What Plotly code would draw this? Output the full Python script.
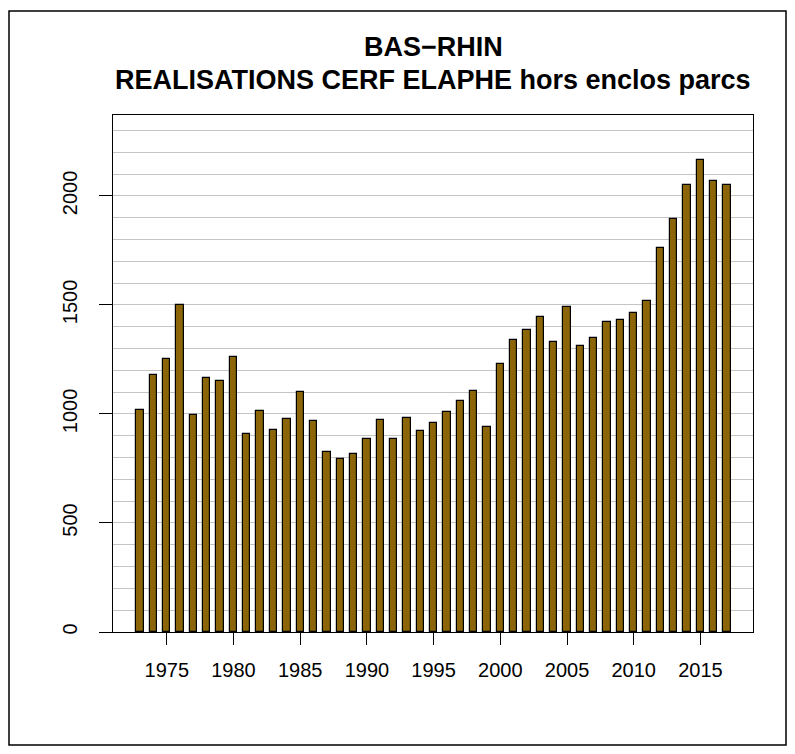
import plotly.graph_objects as go

years = list(range(1973, 2018))
realisations = [1018, 1177, 1254, 1499, 996, 1165, 1149, 1262, 910, 1015,
                927, 978, 1101, 967, 827, 794, 818, 883, 970, 883,
                983, 920, 959, 1010, 1060, 1104, 940, 1230, 1338, 1387,
                1445, 1330, 1491, 1311, 1349, 1421, 1432, 1465, 1519, 1763,
                1896, 2049, 2164, 2068, 2049]
x_ticks = [1975, 1980, 1985, 1990, 1995, 2000, 2005, 2010, 2015]
y_ticks = [0, 500, 1000, 1500, 2000]
title_line1 = "BAS−RHIN"
title_line2 = "REALISATIONS CERF ELAPHE hors enclos parcs"

# page body has an 8px margin: the figure sits at (8, 8) in the window
OFF = 8
W, H = 795 - 2 * OFF, 754 - 2 * OFF
# plot area in window pixels
L, R, T, B = 113, 753, 115, 632
pw, ph = R - L, B - T

def px(x):
    return (x - L) / pw

def py(y):
    return (B - y) / ph

fig = go.Figure()
fig.add_trace(go.Bar(
    x=years, y=realisations, width=0.55,
    marker=dict(color="#8B6508", line=dict(color="black", width=1.2)),
    showlegend=False,
))

font_family = "Liberation Sans, Arial, sans-serif"

fig.update_layout(
    width=W, height=H,
    margin=dict(l=L - OFF, r=(W + OFF) - R, t=T - OFF, b=(H + OFF) - B, pad=0),
    paper_bgcolor="white", plot_bgcolor="white",
    font=dict(family=font_family, color="black", size=20),
    xaxis=dict(
        range=[1970.97, 2018.94], tickmode="array", tickvals=x_ticks,
        ticktext=[str(v) for v in x_ticks], ticks="outside", ticklen=12,
        tickwidth=1.2, tickcolor="black", showgrid=False, zeroline=False,
        showline=True, linecolor="black", linewidth=1.2, mirror=True,
        tickfont=dict(size=20), ticklabelstandoff=8,
    ),
    yaxis=dict(
        range=[0, 2371], tickmode="array", tickvals=y_ticks,
        ticktext=[str(v) for v in y_ticks], ticks="outside", ticklen=13,
        tickwidth=1.2, tickcolor="black", tickangle=-90,
        showgrid=True, gridcolor="#c4c4c4", gridwidth=1.2,
        minor=dict(dtick=100, tick0=0, showgrid=True, gridcolor="#c4c4c4", gridwidth=1.2, ticks=""),
        zeroline=False, showline=True, linecolor="black", linewidth=1.2, mirror=True,
        tickfont=dict(size=20), ticklabelstandoff=14,
    ),
    bargap=0,
    annotations=[
        dict(text="<b>" + title_line1 + "</b>", x=px(433), y=py(47), xref="paper", yref="paper",
             xanchor="center", yanchor="middle", showarrow=False,
             font=dict(size=27, family=font_family, color="black")),
        dict(text="<b>" + title_line2 + "</b>", x=px(433), y=py(80), xref="paper", yref="paper",
             xanchor="center", yanchor="middle", showarrow=False,
             font=dict(size=27, family=font_family, color="black")),
    ],
    shapes=[
        dict(type="rect", xref="paper", yref="paper",
             x0=px(9), x1=px(786), y0=py(745), y1=py(11),
             line=dict(color="black", width=1.5), fillcolor="rgba(0,0,0,0)", layer="above"),
    ],
)

fig.write_html("out.html")
